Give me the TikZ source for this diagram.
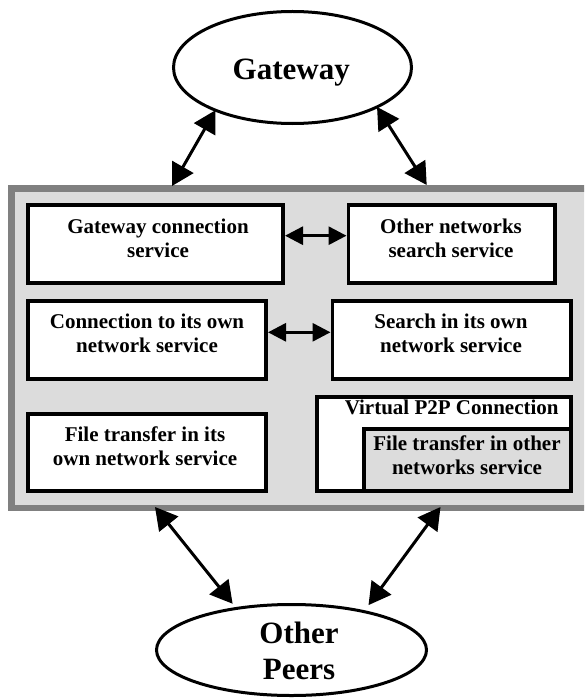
\documentclass[tikz,border=0pt]{standalone}
\usepackage{fontspec}
\setmainfont{Liberation Serif}
\usetikzlibrary{arrows.meta,shapes.geometric}
\definecolor{panelfill}{HTML}{DCDCDC}
\definecolor{panelrim}{HTML}{808080}
\begin{document}
\begin{tikzpicture}[x=1pt,y=-1pt,
  cloud/.style={ellipse, draw, line width=3pt, fill=white, inner sep=0pt, outer sep=0pt},
  svc/.style={draw, line width=3.8pt, fill=white, inner sep=0pt},
  bigtxt/.style={font=\fontsize{31}{36}\selectfont\bfseries, align=center, inner sep=0pt},
  svctxt/.style={font=\fontsize{21}{24}\selectfont\bfseries, align=center, inner sep=0pt},
  link/.style={line width=3pt, {Triangle[length=22pt,width=24pt]}-{Triangle[length=22pt,width=24pt]}},
  hlink/.style={line width=3pt, {Triangle[length=18pt,width=18pt]}-{Triangle[length=18pt,width=18pt]}},
]
\useasboundingbox (0,0) rectangle (584,698);
\clip (0,0) rectangle (584,698);

% peer panel holding the services
\node[draw=panelrim, fill=panelfill, line width=6.5pt, inner sep=0pt, outer sep=0pt,
      minimum width=598.75pt, minimum height=319.5pt, anchor=north west]
      (panel) at (11.25,188.25) {};

% service boxes
\node[svc, minimum width=255.2pt, minimum height=77.9pt] (b1) at (155.5,244.2) {};
\node[svc, minimum width=206.7pt, minimum height=77.9pt] (b2) at (451.75,244.2) {};
\node[svc, minimum width=238.2pt, minimum height=77.6pt] (b3) at (147,340) {};
\node[svc, minimum width=238.7pt, minimum height=77.6pt] (b4) at (451.75,340) {};
\node[svc, minimum width=238.2pt, minimum height=77.2pt] (b5) at (147,452.2) {};
\node[svc, minimum width=254.2pt, minimum height=93.9pt] (vp) at (444,443.85) {};
\node[svc, fill=panelfill, minimum width=207.2pt, minimum height=61.6pt] (vf) at (467.5,460) {};

\node[svctxt] (b1t) at (158,238) {Gateway connection\\service};
\node[svctxt] (b2t) at (451,238) {Other networks\\search service};
\node[svctxt] (b3t) at (147,333.8) {Connection to its own\\network service};
\node[svctxt] (b4t) at (451,333.8) {Search in its own\\network service};
\node[svctxt] (b5t) at (145,446) {File transfer in its\\own network service};
\node[svctxt] (vpt) at (451.7,407.75) {Virtual P2P Connection};
\node[svctxt] (vft) at (467,455) {File transfer in other\\networks service};

% gateway and other peers
\node[cloud, minimum width=238pt, minimum height=112pt] (gw) at (292.5,67.5) {};
\node[bigtxt] (gwt) at (291.2,72.6) {Gateway};
\node[cloud, minimum width=270pt, minimum height=91pt] (op) at (291.5,650) {};
\node[bigtxt] (opt) at (299,651.3) {Other\\Peers};

% connector ends on the panel rim
\coordinate (gl) at (172,186);
\coordinate (gr) at (426.7,185);
\coordinate (pl) at (155,507);
\coordinate (pr) at (440.5,507);

\draw[link] (gw.209) -- (gl);
\draw[link] (gw.335) -- (gr);
\draw[link, shorten <=6pt] (op.143.8) -- (pl);
\draw[link, shorten <=8pt] (op.28.2) -- (pr);

\draw[hlink] ([yshift=8.5pt]b1.east) -- ([yshift=8.5pt]b2.west);
\draw[hlink] ([yshift=7.7pt]b3.east) -- ([yshift=7.7pt]b4.west);
\end{tikzpicture}
\end{document}
